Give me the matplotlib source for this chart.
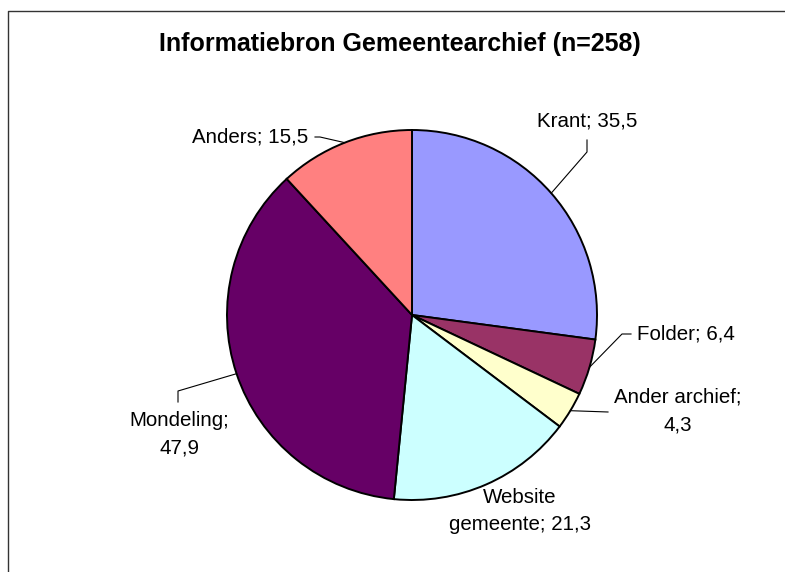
import numpy as np
import matplotlib
matplotlib.use('Agg')
import matplotlib.pyplot as plt

# data
labels = ['Krant; 35,5', 'Folder; 6,4', 'Ander archief;\n4,3', 'Website\ngemeente; 21,3',
          'Mondeling;\n47,9', 'Anders; 15,5']
values = [35.5, 6.4, 4.3, 21.3, 47.9, 15.5]
colors = ['#9999FF', '#993366', '#FFFFCC', '#CCFFFF', '#660066', '#FF8080']

W, H = 785, 572
plt.rcParams['font.family'] = ['Liberation Sans', 'DejaVu Sans']

fig = plt.figure(figsize=(W / 100, H / 100), dpi=100)
ax = fig.add_axes([0, 0, 1, 1])

def Y(y):
  # pixel row (from top) -> data y
  return H - y

cx, cy, r = 412, 315, 185
wedges, _ = ax.pie(values, colors=colors, startangle=90, counterclock=False,
                   center=(cx, Y(cy)), radius=r,
                   wedgeprops=dict(edgecolor='black', linewidth=1.4))
ax.set_xlim(0, W)
ax.set_ylim(0, H)
ax.set_aspect('equal')
ax.axis('off')

# label text centres and leader knees (pixel coords)
text_pos = [(587, 121), (686, 334), (678, 411), (520, 511), (179, 434), (250, 137)]
knees = [[(587, 140), (587, 152)],
         [(631, 334), (622, 334)],
         [(608, 412)],
         None,
         [(178, 402), (178, 391)],
         [(315, 137), (320, 137)]]

for w, lab, tp, kn in zip(wedges, labels, text_pos, knees):
  ax.text(tp[0], Y(tp[1]), lab, ha='center', va='center', fontsize=14.75,
          linespacing=1.55, color='black')
  if kn is None:
    continue
  mid = np.deg2rad((w.theta1 + w.theta2) / 2)
  ex = cx + r * np.cos(mid)
  ey = Y(cy) + r * np.sin(mid)
  xs = [p[0] for p in kn] + [ex]
  ys = [Y(p[1]) for p in kn] + [ey]
  ax.plot(xs, ys, color='black', linewidth=0.8)

ax.text(400, Y(44), 'Informatiebron Gemeentearchief (n=258)', ha='center', va='center',
        fontsize=18, fontweight='bold')

# chart frame (cropped)
ax.plot([7.5, 7.5, W], [0, Y(11), Y(11)], color='#333333', linewidth=1.0)

plt.savefig('out.png', dpi=100)
